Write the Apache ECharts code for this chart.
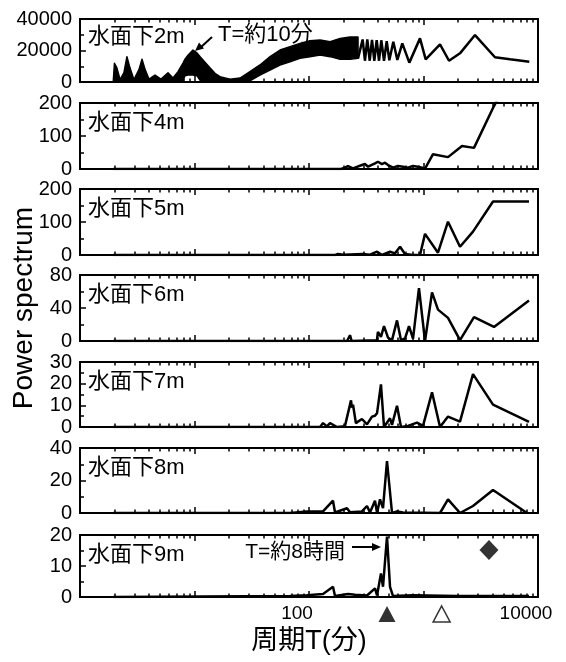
<!DOCTYPE html>
<html><head><meta charset="utf-8">
<script src="https://cdn.jsdelivr.net/npm/echarts@6/dist/echarts.min.js"></script>
<style>html,body{margin:0;padding:0;background:#fff}#c{width:566px;height:662px}</style>
</head><body><div id="c"></div>
<script>
// ---------- DATA ----------
const depthLabels = ['水面下2m','水面下4m','水面下5m','水面下6m','水面下7m','水面下8m','水面下9m'];
const yMax = [40000, 200, 200, 80, 30, 40, 20];
const yInterval = [20000, 100, 100, 40, 10, 20, 10];
const xTickLabels = [100, 10000];
const xMajorTicks = [1, 10, 100, 1000, 10000];
const xMinorTicks = [2,3,4,5,6,7,8,9,20,30,40,50,60,70,80,90,200,300,400,500,600,700,800,900,2000,3000,4000,5000,6000,7000,8000,9000];

// 2m: dense (unresolved) part read as an envelope band
const band2mPeriod = [1.95,2.0,2.10,2.24,2.42,2.57,2.73,2.96,3.28,3.48,3.70,4.01,4.52,5.10,5.87,6.49,7.18,7.94,8.26,8.77,9.70,10.5,11.2,12.35,13.7,15.1,16.7,20.4,25.0,30.5,37.3,45.7,55.8,68.3,83.4,102,125,153,187,228,268];
const band2mUpper  = [0,11900,9000,1500,6000,16100,9000,1500,8000,14400,8000,1800,4400,1800,5900,2500,6600,12000,14500,17000,20300,18500,16000,12500,8900,5500,3400,1800,2500,6600,10800,16100,20300,22400,24500,26200,26700,25600,27700,28500,28500];
const band2mLower  = [0,0,0,0,0,0,0,0,0,0,0,0,0,0,0,0,0,1000,4000,4400,4400,4000,1000,0,0,0,0,0,0,800,4400,7600,10800,12900,15000,16100,17100,16100,14500,14500,15000];
// 2m: resolved zig-zag part
const line2m = [[268,15000],[294,27000],[308,13500],[323,27000],[339,13500],[355,26800],[372,13500],[390,26500],[409,13500],[428,26500],[452,13500],[477,26000],[503,13800],[545,25600],[591,14000],[653,24500],[752,12300],[932,27700],[1045,14400],[1394,23900],[1671,13500],[2083,18200],[2818,29800],[4210,15700],[5693,14400],[8395,12900]];

const line4m = [[1.95,0],[190,0],[206,4],[219,9],[242,2],[290,12],[308,15],[328,7],[377,17],[400,22],[434,15],[461,19],[490,12],[542,4],[599,9],[662,7],[732,4],[810,9],[895,7],[970,4],[1031,1],[1211,45],[1637,36],[2169,70],[2761,64],[4046,185],[4500,215]];
const line5m = [[1.95,0],[170,0],[179,3],[186,5],[200,1],[296,3],[340,1],[393,10],[434,0],[510,10],[564,5],[624,25],[649,20],[689,3],[810,0],[932,0],[1031,64],[1338,7],[1637,101],[2084,25],[2706,71],[4046,162],[8344,162]];
const line6m = [[1.95,0],[215,0],[228,7],[236,0],[392,1],[400,11],[425,5],[452,18],[490,4],[531,1],[587,25],[636,1],[689,3],[747,18],[810,3],[913,64],[1031,0],[1187,59],[1338,38],[1637,28],[2084,1],[2761,29],[4128,17],[8344,49]];
const line7m = [[1.95,0],[125,0],[132.6,1.8],[143.5,0.3],[152.6,1.8],[175.6,0],[206,0.4],[232.7,12.3],[237,9],[242.3,10.3],[257,1.7],[268,2.5],[290,3.7],[321,1.2],[355,4.8],[377,5.2],[393,6.4],[425,19.7],[452,0],[510,4],[531,1],[587,9.8],[636,0],[732,0.5],[877,2],[990,0.5],[1187,16],[1394,0],[1637,4.8],[2084,2.5],[2706,24.4],[4046,10.3],[8344,2.4]];
const line8m = [[1.95,0],[68.3,0],[96,1],[132.6,1],[162,7.6],[168.7,0.3],[214.7,2.9],[228,0.5],[290,1],[321,4.3],[341,0.3],[377,7.6],[393,0],[417,8.4],[443,3],[480,32],[531,0],[587,1],[662,0.3],[1394,0],[1637,8.4],[2084,0],[2706,4.3],[4046,14.2],[8014,0]];
const line9m = [[1.95,0],[68.3,0.3],[96,0.6],[132.6,1],[162,3.3],[168.7,0.3],[219,1],[252,0.7],[321,0.5],[377,2.8],[393,0.5],[425,7.6],[443,3.3],[480,19.5],[510,3.3],[542,0.3],[810,0.6],[1962,0.3],[8344,0.3]];

const markEightHours = [[480, 0]];   // ▲
const markOneDay = [[1440, 0]];      // △
const markDiamond9m = [[3730, 15.2]]; // ◆

// ---------- LAYOUT ----------
const FONT = "'Liberation Sans','Noto Sans CJK JP',sans-serif";
const gridTops = [19, 103, 189, 275, 362, 448, 535];
const gridHeights = [63, 66, 66, 66, 65, 65, 62];
const GL = 80, GW = 458;
const N = 7;

const grids = [], xAxes = [], yAxes = [], series = [];
for (let i = 0; i < N; i++) {
  grids.push({left: GL, width: GW, top: gridTops[i], height: gridHeights[i], show: true,
    borderColor: '#000', borderWidth: 2, backgroundColor: 'transparent', containLabel: false});
}
for (let i = 0; i < N; i++) {
  grids.push({left: GL, width: GW, top: gridTops[i], height: gridHeights[i], show: false, containLabel: false});
}
function xAx(grid, pos, ticks, len) {
  return {gridIndex: grid, type: 'log', logBase: 10, min: 1, max: 10000, position: pos,
    axisLine: {show: false}, splitLine: {show: false}, minorTick: {show: false},
    axisTick: {show: true, inside: true, length: len, customValues: ticks, lineStyle: {color: '#000', width: 1.5}},
    axisLabel: {show: false}, axisPointer: {show: false}};
}
for (let i = 0; i < N; i++) {
  const ax = xAx(i, 'bottom', xMajorTicks, 6);
  if (i === N - 1) {
    ax.axisLabel = {show: true, customValues: xTickLabels, formatter: v => String(Math.round(v)),
      fontSize: 19, color: '#000', fontFamily: FONT, margin: 7, padding: [0, 24, 0, 0]};
    ax.name = '周期T(分)';
    ax.nameLocation = 'middle';
    ax.nameGap = 31;
    ax.nameTextStyle = {fontSize: 27, color: '#000', fontFamily: FONT};
  }
  xAxes.push(ax);
  xAxes.push(xAx(i, 'top', xMajorTicks, 6));
}
for (let i = 0; i < N; i++) {
  xAxes.push(xAx(N + i, 'bottom', xMinorTicks, 3.5));
  xAxes.push(xAx(N + i, 'top', xMinorTicks, 3.5));
}
for (let i = 0; i < N; i++) {
  const ya = {gridIndex: i, type: 'value', min: 0, max: yMax[i], interval: yInterval[i], position: 'left',
    axisLine: {show: false}, splitLine: {show: false},
    axisTick: {show: true, inside: true, length: 6, lineStyle: {color: '#000', width: 1.5}},
    minorTick: {show: true, splitNumber: 2, length: 4, lineStyle: {color: '#000', width: 1.5}},
    axisLabel: {fontSize: 20, color: '#000', fontFamily: FONT, margin: 8, formatter: v => String(v)}};
  if (i === 3) {
    ya.name = 'Power spectrum';
    ya.nameLocation = 'middle';
    ya.nameGap = 42;
    ya.nameTextStyle = {fontSize: 28, color: '#000', fontFamily: FONT};
  }
  yAxes.push(ya);
}
for (let i = 0; i < N; i++) {
  yAxes.push({gridIndex: N + i, type: 'value', min: 0, max: 1, show: false});
}

const lineBase = {type: 'line', symbol: 'none', showSymbol: false, clip: true, animation: false,
  lineStyle: {color: '#000', width: 2.5}, itemStyle: {color: '#000'}};

// 2m band: polygon between upper and lower envelopes, positioned by the axes
series.push({type: 'custom', xAxisIndex: 0, yAxisIndex: 0, animation: false, clip: true,
  data: [[band2mPeriod[0], 0]],
  renderItem: function (params, api) {
    const pts = [];
    for (let k = 0; k < band2mPeriod.length; k++) pts.push(api.coord([band2mPeriod[k], band2mUpper[k]]));
    for (let k = band2mPeriod.length - 1; k >= 0; k--) pts.push(api.coord([band2mPeriod[k], band2mLower[k]]));
    return {type: 'polygon', shape: {points: pts}, style: {fill: '#000', stroke: '#000', lineWidth: 1.5, lineJoin: 'round'}};
  }});
series.push(Object.assign({}, lineBase, {xAxisIndex: 0, yAxisIndex: 0, data: line2m}));

const others = [line4m, line5m, line6m, line7m, line8m, line9m];
others.forEach((d, k) => {
  const i = k + 1;
  series.push(Object.assign({}, lineBase, {xAxisIndex: 2 * i, yAxisIndex: i, data: d}));
});

// markers (bottom panel)
series.push({type: 'scatter', xAxisIndex: 12, yAxisIndex: 6, data: markEightHours, symbol: 'triangle',
  symbolSize: [17, 16], symbolOffset: [0, 17], clip: false, z: 10, itemStyle: {color: '#000'}, animation: false});
series.push({type: 'scatter', xAxisIndex: 12, yAxisIndex: 6, data: markOneDay, symbol: 'triangle',
  symbolSize: [17, 16], symbolOffset: [0, 17], clip: false, z: 10,
  itemStyle: {color: '#fff', borderColor: '#000', borderWidth: 1.5}, animation: false});
series.push({type: 'scatter', xAxisIndex: 12, yAxisIndex: 6, data: markDiamond9m, symbol: 'diamond',
  symbolSize: [19, 20], clip: false, z: 10, itemStyle: {color: '#000'}, animation: false});

// annotations
const graphics = [];
depthLabels.forEach((t, i) => {
  graphics.push({type: 'text', x: 88, y: gridTops[i] + (i === 0 ? 17.5 : 20), z: 20,
    style: {text: t, font: '22px ' + FONT, fill: '#000', textVerticalAlign: 'middle', textAlign: 'left'}});
});
graphics.push({type: 'text', x: 218, y: 35, z: 20,
  style: {text: 'T=約10分', font: '22px ' + FONT, fill: '#000', textVerticalAlign: 'middle', textAlign: 'left'}});
graphics.push({type: 'line', z: 20, shape: {x1: 212, y1: 37, x2: 200, y2: 48}, style: {stroke: '#000', lineWidth: 2}});
graphics.push({type: 'polygon', z: 20, shape: {points: [[195, 51], [204, 48.5], [199, 42.5]]}, style: {fill: '#000'}});
graphics.push({type: 'text', x: 345, y: 552, z: 20,
  style: {text: 'T=約8時間', font: '21px ' + FONT, fill: '#000', textVerticalAlign: 'middle', textAlign: 'right'}});
graphics.push({type: 'line', z: 20, shape: {x1: 352, y1: 547, x2: 374, y2: 547}, style: {stroke: '#000', lineWidth: 2}});
graphics.push({type: 'polygon', z: 20, shape: {points: [[381, 547], [372, 543], [372, 551]]}, style: {fill: '#000'}});

const chart = echarts.init(document.getElementById('c'), null, {renderer: 'canvas'});
chart.setOption({
  animation: false,
  backgroundColor: '#fff',
  textStyle: {fontFamily: FONT},
  grid: grids, xAxis: xAxes, yAxis: yAxes, series: series, graphic: graphics
});
</script></body></html>
